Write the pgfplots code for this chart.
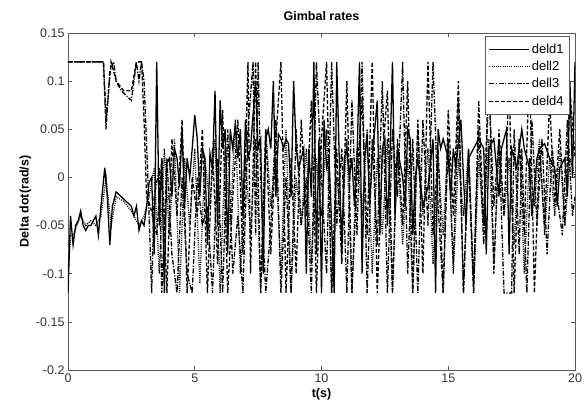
\documentclass[border=0pt]{standalone}
\usepackage{pgfplots}
\pgfplotsset{compat=1.18}
\usepackage{fontspec}
\setmainfont{Liberation Sans}
\definecolor{axgray}{RGB}{90,90,90}
\begin{document}
\begin{tikzpicture}
\useasboundingbox (0pt,0pt) rectangle (584pt,405pt);
\begin{axis}[
  at={(68pt,35pt)}, anchor=south west,
  scale only axis, width=507pt, height=337pt,
  xmin=0, xmax=20, ymin=-0.2, ymax=0.15,
  xtick={0,5,10,15,20},
  ytick={-0.2,-0.15,-0.1,-0.05,0,0.05,0.1,0.15},
  yticklabels={-0.2,-0.15,-0.1,-0.05,0,0.05,0.1,0.15},
  xticklabels={0,5,10,15,20},
  tick align=inside, tick pos=both,
  major tick length=4pt,
  axis line style={axgray, line width=0.8pt},
  every tick/.style={axgray, line width=0.6pt},
  tick label style={font=\fontsize{12.5}{14}\selectfont, text=black!80},
  /pgf/number format/assume math mode=true,
  title={\bfseries Gimbal rates},
  title style={font=\fontsize{12.5}{14}\selectfont, yshift=3pt},
  xlabel={\bfseries t(s)},
  ylabel={\bfseries Delta dot(rad/s)},
  label style={font=\fontsize{12.5}{14}\selectfont},
  xlabel style={yshift=1pt},
  ylabel style={yshift=-2pt},
  legend style={at={(0.99,0.99)}, anchor=north east, draw=axgray, line width=0.6pt,
    font=\fontsize{13}{15}\selectfont, inner xsep=4pt, inner ysep=4pt,
    nodes={inner ysep=3.2pt}},
  legend cell align=left,
  legend image post style={line width=1pt},
  legend image code/.code={\draw[#1] (0pt,0pt) -- (40pt,0pt);},
  clip=true,
]
% deld1 (solid)
\addplot[black, line width=1.3pt] coordinates {
(0,-0.12)(0.05,-0.08)(0.1,-0.04)(0.2,-0.07)(0.3,-0.05)(0.4,-0.045)(0.5,-0.035)(0.6,-0.05)(0.7,-0.055)(0.8,-0.05)(0.9,-0.05)(1.0,-0.045)(1.1,-0.04)(1.2,-0.06)(1.3,-0.03)(1.45,0.01)(1.55,-0.02)(1.65,-0.07)(1.75,-0.03)(1.9,-0.015)(2.1,-0.02)(2.3,-0.025)(2.5,-0.03)(2.6,-0.04)(2.7,-0.03)(2.8,-0.055)(2.9,-0.045)(3.0,-0.05)(3.1,-0.03)(3.2,-0.005)(3.3,0.0)(3.4,-0.08)(3.5,0.12)(3.6,-0.05)(3.7,0.02)(3.8,-0.12)(3.9,0.015)(4.0,0.02)(4.1,-0.02)(4.2,0.03)(4.3,0.02)(4.4,-0.01)(4.5,0.05)(4.6,-0.03)(4.7,0.02)(4.8,0.0)(4.9,0.03)(5.0,0.065)(5.1,0.04)(5.2,-0.02)(5.3,0.03)(5.4,0.02)(5.5,-0.07)(5.6,0.025)(5.7,0.01)(5.8,0.09)(5.9,-0.05)(6.0,0.08)(6.1,0.03)(6.2,0.05)(6.3,-0.08)(6.4,0.05)(6.5,0.03)(6.6,0.055)(6.7,0.02)(6.8,0.05)(6.9,-0.04)(7.0,0.06)(7.1,0.02)(7.2,0.03)(7.4,0.1)(7.5,0.03)(7.6,0.04)(7.7,-0.1)(7.8,0.04)(7.9,0.05)(8.0,0.03)(8.1,0.1)(8.2,-0.02)(8.3,0.045)(8.4,0.04)(8.5,0.03)(8.6,0.04)(8.7,0.035)(8.8,-0.02)(8.9,0.1)(9.0,0.03)(9.1,0.01)(9.2,0.02)(9.3,0.03)(9.4,-0.1)(9.5,0.03)(9.6,-0.02)(9.7,0.12)(9.8,-0.08)(9.9,0.04)(10.0,-0.12)(10.1,0.06)(10.2,0.01)(10.3,0.02)(10.5,-0.12)(10.6,0.12)(10.7,0.02)(10.8,-0.08)(10.9,0.02)(11.0,0.03)(11.1,0.0)(11.2,0.02)(11.3,-0.03)(11.4,0.02)(11.5,0.12)(11.6,-0.1)(11.7,0.02)(11.8,0.045)(11.9,-0.03)(12.0,0.02)(12.2,0.08)(12.3,-0.06)(12.4,0.03)(12.5,0.04)(12.6,-0.05)(12.7,0.02)(12.8,0.12)(12.9,-0.04)(13.0,0.03)(13.2,0.0)(13.3,-0.03)(13.4,0.05)(13.5,0.04)(13.6,-0.06)(13.7,0.0)(13.8,0.02)(14.0,-0.03)(14.2,-0.01)(14.4,0.04)(14.5,-0.12)(14.6,0.05)(14.7,0.03)(14.8,0.04)(15.0,0.02)(15.1,-0.02)(15.2,0.03)(15.3,0.01)(15.5,0.06)(15.6,0.0)(15.7,-0.05)(15.8,0.02)(16.0,0.03)(16.2,0.04)(16.4,0.03)(16.5,-0.08)(16.6,0.03)(16.8,0.04)(17.0,-0.02)(17.1,0.03)(17.3,0.05)(17.4,-0.08)(17.5,0.03)(17.7,0.01)(17.9,0.05)(18.0,0.03)(18.2,0.01)(18.3,-0.04)(18.5,0.02)(18.6,0.03)(18.8,0.035)(19.0,0.02)(19.2,0.01)(19.3,-0.03)(19.4,0.01)(19.6,0.02)(19.7,-0.02)(19.8,0.1)(19.9,0.0)(20.0,0.12)
};
\addlegendentry{deld1}
% deld2 (dotted)
\addplot[black, line width=1.3pt, dash pattern=on 1pt off 1.2pt] coordinates {
(0,-0.1)(0.1,-0.06)(0.2,-0.06)(0.35,-0.05)(0.5,-0.04)(0.7,-0.05)(0.9,-0.045)(1.1,-0.05)(1.3,-0.04)(1.5,0.0)(1.7,-0.05)(1.9,-0.02)(2.2,-0.025)(2.5,-0.035)(2.8,-0.05)(3.0,-0.04)(3.2,-0.02)(3.4,0.01)(3.6,-0.1)(3.8,0.03)(4.0,-0.06)(4.2,0.04)(4.4,-0.12)(4.6,0.02)(4.8,-0.05)(5.0,0.03)(5.2,-0.11)(5.4,0.02)(5.6,-0.03)(5.8,0.04)(6.0,-0.12)(6.2,0.03)(6.4,-0.05)(6.6,0.06)(6.8,-0.1)(7.0,0.02)(7.2,-0.06)(7.4,0.04)(7.6,-0.12)(7.8,0.05)(8.0,-0.03)(8.2,0.02)(8.4,-0.1)(8.6,0.05)(8.8,-0.12)(9.0,0.0)(9.2,-0.05)(9.4,0.03)(9.6,-0.09)(9.8,0.02)(10.0,-0.04)(10.2,0.05)(10.4,-0.12)(10.6,0.0)(10.8,-0.05)(11.0,0.04)(11.2,-0.12)(11.4,0.03)(11.6,-0.04)(11.8,0.05)(12.0,-0.1)(12.2,0.02)(12.4,-0.06)(12.6,0.04)(12.8,-0.12)(13.0,0.03)(13.2,-0.07)(13.4,0.02)(13.6,-0.12)(13.8,0.05)(14.0,-0.04)(14.2,0.03)(14.4,-0.09)(14.6,0.02)(14.8,-0.06)(15.0,0.04)(15.2,-0.1)(15.4,0.02)(15.6,-0.04)(15.8,0.03)(16.0,-0.12)(16.2,0.02)(16.4,-0.05)(16.6,0.04)(16.8,-0.09)(17.0,0.03)(17.2,-0.04)(17.4,0.02)(17.6,-0.07)(17.8,0.04)(18.0,-0.1)(18.2,0.02)(18.4,-0.03)(18.6,0.04)(18.8,-0.06)(19.0,0.02)(19.2,-0.04)(19.4,0.03)(19.6,-0.05)(19.8,0.02)(20.0,0.0)
};
\addlegendentry{dell2}
% deld3 (dash-dot)
\addplot[black, line width=1.3pt, dash pattern=on 5pt off 1.5pt on 1.2pt off 1.5pt] coordinates {
(0,0.12)(1.4,0.12)(1.5,0.05)(1.65,0.11)(1.8,0.12)(1.9,0.1)(2.1,0.09)(2.3,0.085)(2.5,0.08)(2.6,0.1)(2.7,0.12)(2.8,0.1)(2.9,0.12)(3.0,0.1)(3.15,0.0)(3.3,-0.12)(3.4,-0.02)(3.6,0.01)(3.7,-0.12)(3.9,0.02)(4.1,-0.08)(4.3,-0.12)(4.5,0.0)(4.7,-0.1)(4.9,-0.12)(5.1,0.0)(5.3,-0.05)(5.5,-0.03)(5.7,-0.12)(5.9,0.02)(6.1,-0.12)(6.3,0.05)(6.5,-0.1)(6.7,-0.04)(6.9,-0.12)(7.1,0.05)(7.3,0.12)(7.4,-0.06)(7.5,0.12)(7.6,0.0)(7.8,-0.12)(8.0,-0.05)(8.2,0.06)(8.4,-0.12)(8.6,0.0)(8.8,-0.12)(9.0,0.05)(9.2,-0.05)(9.4,0.0)(9.6,-0.12)(9.8,0.12)(10.0,0.0)(10.2,-0.1)(10.4,0.12)(10.6,-0.05)(10.8,0.03)(11.0,-0.12)(11.2,0.08)(11.4,-0.06)(11.6,0.12)(11.8,-0.12)(12.0,0.04)(12.2,-0.07)(12.4,0.1)(12.6,-0.12)(12.8,0.05)(13.0,-0.02)(13.2,0.12)(13.4,-0.1)(13.6,0.04)(13.8,-0.12)(14.0,0.06)(14.2,-0.05)(14.4,0.12)(14.6,-0.03)(14.8,-0.12)(15.0,0.04)(15.2,-0.09)(15.4,0.08)(15.6,-0.12)(15.8,0.03)(16.0,-0.11)(16.2,0.05)(16.4,-0.07)(16.6,0.1)(16.8,-0.03)(17.0,0.04)(17.2,-0.12)(17.5,-0.12)(17.6,0.05)(17.8,-0.08)(17.9,0.03)(18.1,-0.12)(18.3,0.06)(18.5,-0.05)(18.7,0.04)(18.9,-0.08)(19.1,0.03)(19.3,-0.02)(19.5,-0.06)(19.7,0.06)(19.9,-0.04)(20.0,-0.02)
};
\addlegendentry{dell3}
% deld4 (dashed)
\addplot[black, line width=1.3pt, dash pattern=on 4pt off 2pt] coordinates {
(0,0.12)(1.4,0.12)(1.5,0.06)(1.7,0.12)(1.9,0.1)(2.2,0.09)(2.5,0.09)(2.7,0.12)(2.9,0.12)(3.0,0.06)(3.1,-0.02)(3.25,-0.03)(3.5,-0.06)(3.7,0.02)(3.9,-0.12)(4.1,0.04)(4.3,-0.04)(4.5,0.06)(4.7,-0.12)(4.9,0.0)(5.1,-0.04)(5.3,0.05)(5.5,-0.12)(5.7,0.03)(5.9,-0.09)(6.1,0.07)(6.3,-0.12)(6.5,-0.02)(6.7,0.06)(6.9,-0.08)(7.1,0.12)(7.2,-0.1)(7.4,0.12)(7.6,-0.12)(7.8,0.05)(8.0,-0.08)(8.2,0.04)(8.4,0.12)(8.6,-0.12)(8.8,0.02)(9.0,-0.1)(9.2,0.06)(9.4,-0.04)(9.6,0.08)(9.8,-0.12)(10.0,0.04)(10.2,0.12)(10.4,-0.12)(10.6,0.03)(10.8,-0.09)(11.0,0.1)(11.2,-0.12)(11.4,0.0)(11.6,0.08)(11.8,-0.06)(12.0,0.12)(12.2,-0.12)(12.4,0.02)(12.6,0.09)(12.8,-0.12)(13.0,0.04)(13.2,-0.05)(13.4,0.1)(13.6,-0.12)(13.8,0.06)(14.0,-0.1)(14.2,0.12)(14.4,-0.06)(14.6,0.03)(14.8,-0.12)(15.0,0.07)(15.2,-0.04)(15.4,0.1)(15.6,-0.12)(15.8,0.02)(16.0,-0.12)(16.2,0.08)(16.4,-0.05)(16.6,0.12)(16.8,-0.1)(17.0,0.05)(17.2,-0.04)(17.4,0.1)(17.6,-0.12)(17.8,0.04)(18.0,-0.06)(18.2,0.12)(18.4,-0.12)(18.6,0.03)(18.8,-0.05)(19.0,0.08)(19.2,-0.03)(19.4,0.05)(19.6,-0.05)(19.8,0.09)(20.0,0.02)
};
\addlegendentry{deld4}
\end{axis}
\end{tikzpicture}
\end{document}
